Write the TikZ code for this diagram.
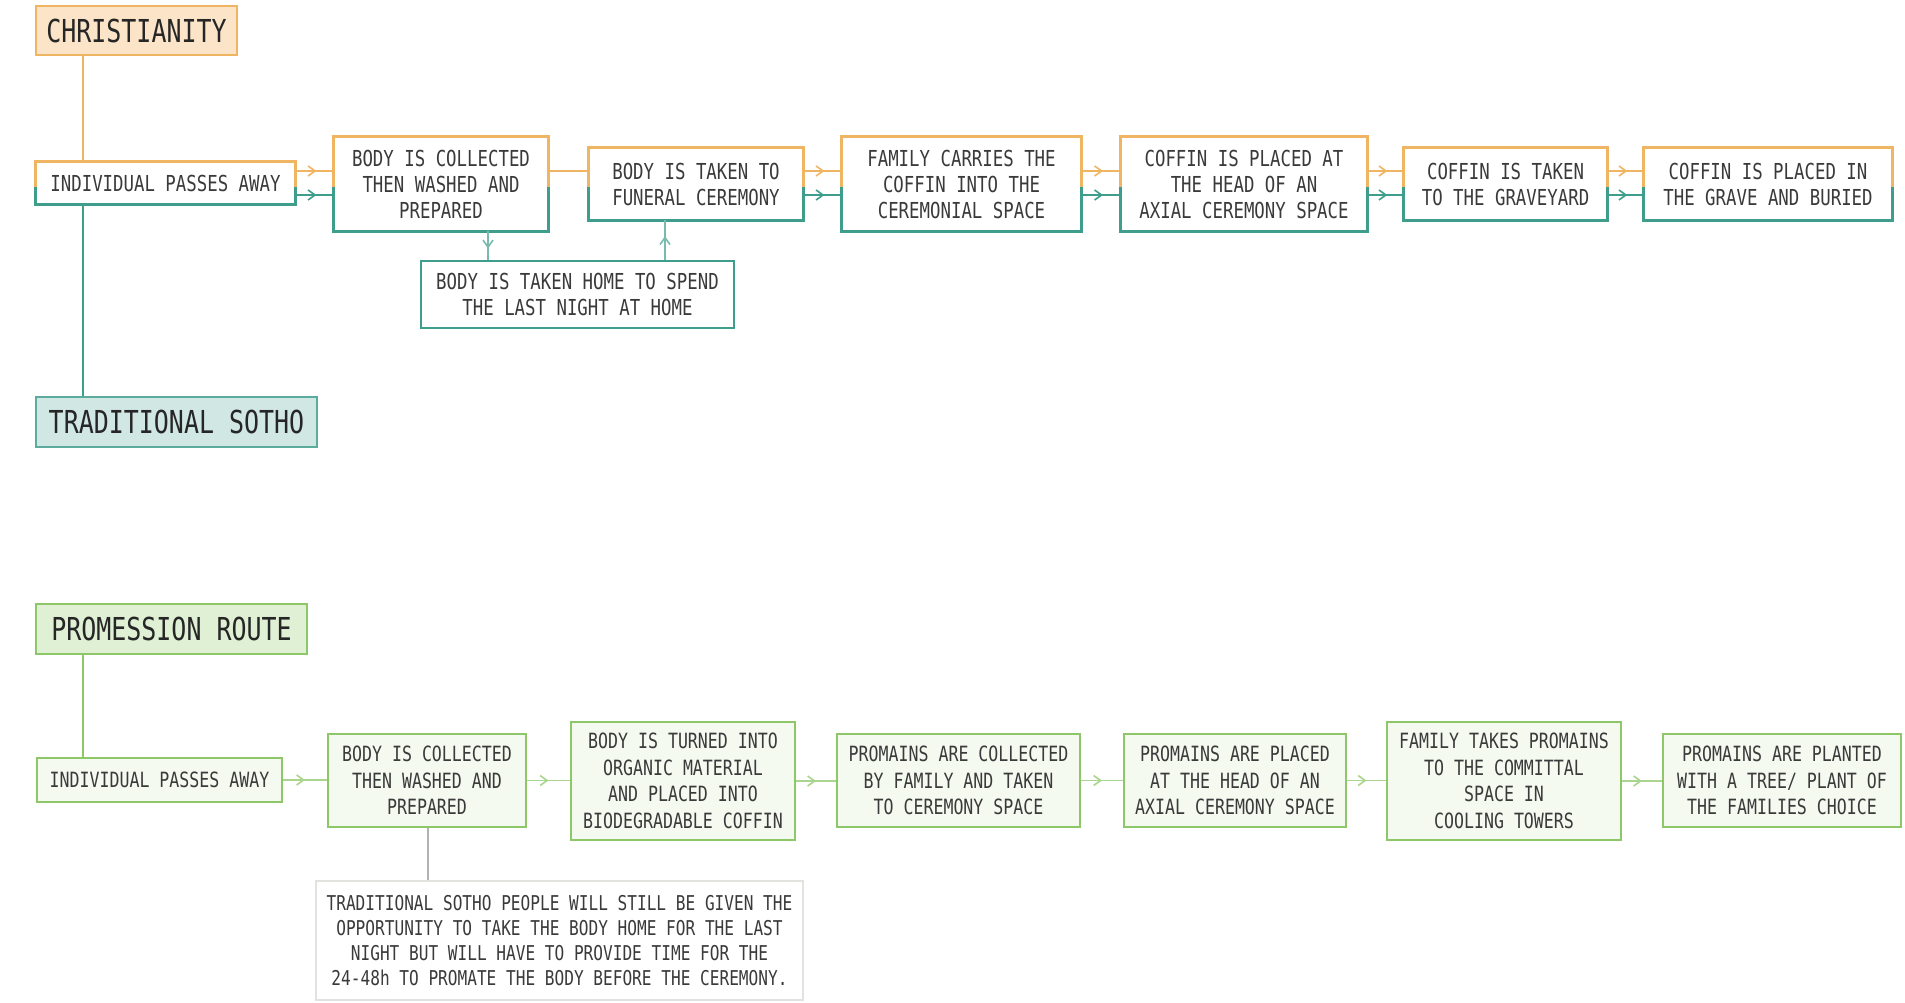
\documentclass[tikz,border=0pt]{standalone}
\usepackage{fontspec}
\newfontfamily\techfont{DejaVu Sans Mono}[FakeStretch=0.79]
\usetikzlibrary{arrows.meta,decorations.markings}
\definecolor{peach}{HTML}{F0B562}
\definecolor{peachfill}{HTML}{FCE4C8}
\definecolor{sea}{HTML}{3F9D8C}
\definecolor{seafill}{HTML}{D0E7E3}
\definecolor{leaf}{HTML}{8DC768}
\definecolor{leaffill}{HTML}{DFF0D4}
\definecolor{leafpale}{HTML}{F4FAF0}
\definecolor{ink}{HTML}{3A3A3A}

\tikzset{
  head/.style={draw,line width=1.3pt,inner sep=0pt,text=black!85,
    font=\techfont\fontsize{15.8}{18}\selectfont},
  stage/.style={inner sep=0pt,align=center,text=ink,
    font=\techfont\fontsize{11}{13}\selectfont},
  pstage/.style={draw=leaf,line width=1.2pt,fill=leafpale,inner sep=0pt,align=center,text=ink,
    font=\techfont\fontsize{10.5}{13.3}\selectfont},
  midtip/.style={postaction={decorate},decoration={markings,
    mark=at position #1 with {\arrow{Straight Barb[length=3.5pt,width=5pt]}}}},
  orline/.style={peach,line width=0.8pt},
  seline/.style={sea,line width=0.8pt},
  lfline/.style={leaf,line width=0.8pt},
}

\begin{document}
\begin{tikzpicture}[x=0.5pt,y=-0.5pt]
\useasboundingbox (0,0) rectangle (1905,1002);
\fill[white] (0,0) rectangle (1905,1002);
\coordinate (spine) at (83,0);
\coordinate (cut) at (0,187);
\coordinate (hi) at (0,171);
\coordinate (lo) at (0,195);
\coordinate (dn) at (488,0);
\coordinate (up) at (665,0);
\coordinate (nt) at (428,0);

% christianity / traditional sotho
\node[head,draw=peach,fill=peachfill,minimum width=100.5pt,minimum height=24.5pt] (chr) at (136.5,30.5) {CHRISTIANITY};
\node[head,draw=sea!85,fill=seafill,minimum width=140.5pt,minimum height=25pt] (sotho) at (176.5,422) {TRADITIONAL SOTHO};
\node[stage,minimum width=129.5pt,minimum height=21pt] (c1) at (165.5,183) {INDIVIDUAL PASSES AWAY};
\node[stage,minimum width=107pt,minimum height=47pt] (c2) at (441,184) {BODY IS COLLECTED\\THEN WASHED AND\\PREPARED};
\node[stage,minimum width=107pt,minimum height=36pt] (c3) at (696,184) {BODY IS TAKEN TO\\FUNERAL CEREMONY};
\node[stage,minimum width=119.5pt,minimum height=47pt] (c4) at (961.5,184) {FAMILY CARRIES THE\\COFFIN INTO THE\\CEREMONIAL SPACE};
\node[stage,minimum width=123pt,minimum height=47pt] (c5) at (1244,184) {COFFIN IS PLACED AT\\THE HEAD OF AN\\AXIAL CEREMONY SPACE};
\node[stage,minimum width=101.5pt,minimum height=36pt] (c6) at (1505.5,184) {COFFIN IS TAKEN\\TO THE GRAVEYARD};
\node[stage,minimum width=124pt,minimum height=36pt] (c7) at (1768,184) {COFFIN IS PLACED IN\\THE GRAVE AND BURIED};
\node[stage,draw=sea,line width=1.2pt,minimum width=156.5pt,minimum height=33.5pt] (home) at (577.5,294.5) {BODY IS TAKEN HOME TO SPEND\\THE LAST NIGHT AT HOME};

% two-colour frames
\foreach \n in {c1,c2,c3,c4,c5,c6,c7}{
  \draw[peach,line width=1.2pt] (\n.west |- cut) -- (\n.north west) -- (\n.north east) -- (\n.east |- cut);
  \draw[sea,line width=1.2pt] (\n.west |- cut) -- (\n.south west) -- (\n.south east) -- (\n.east |- cut);
}

\draw[orline] (chr.south -| spine) -- (c1.north -| spine);
\draw[seline] (c1.south -| spine) -- (sotho.north -| spine);
\draw[orline,midtip=0.55] (c1.east |- hi) -- (c2.west |- hi);
\draw[orline] (c2.east |- hi) -- (c3.west |- hi);
\foreach \a/\b in {c3/c4,c4/c5,c5/c6,c6/c7}
  \draw[orline,midtip=0.55] (\a.east |- hi) -- (\b.west |- hi);
\foreach \a/\b in {c1/c2,c3/c4,c4/c5,c5/c6,c6/c7}
  \draw[seline,midtip=0.55] (\a.east |- lo) -- (\b.west |- lo);
\draw[seline,sea!70,midtip=0.6] (c2.south -| dn) -- (home.north -| dn);
\draw[seline,sea!70,midtip=0.6] (home.north -| up) -- (c3.south -| up);

% promession route
\node[head,draw=leaf,fill=leaffill,minimum width=135.5pt,minimum height=25pt] (pro) at (171.5,629) {PROMESSION ROUTE};
\node[pstage,minimum width=122.5pt,minimum height=22pt] (p1) at (159.5,780) {INDIVIDUAL PASSES AWAY};
\node[pstage,minimum width=99pt,minimum height=46.5pt] (p2) at (427,780.5) {BODY IS COLLECTED\\THEN WASHED AND\\PREPARED};
\node[pstage,minimum width=112pt,minimum height=59pt] (p3) at (683,781) {BODY IS TURNED INTO\\ORGANIC MATERIAL\\AND PLACED INTO\\BIODEGRADABLE COFFIN};
\node[pstage,minimum width=121.5pt,minimum height=46.5pt] (p4) at (958.5,780.5) {PROMAINS ARE COLLECTED\\BY FAMILY AND TAKEN\\TO CEREMONY SPACE};
\node[pstage,minimum width=111pt,minimum height=46.5pt] (p5) at (1235,780.5) {PROMAINS ARE PLACED\\AT THE HEAD OF AN\\AXIAL CEREMONY SPACE};
\node[pstage,minimum width=117pt,minimum height=59pt] (p6) at (1504,781) {FAMILY TAKES PROMAINS\\TO THE COMMITTAL\\SPACE IN\\COOLING TOWERS};
\node[pstage,minimum width=119pt,minimum height=46.5pt] (p7) at (1782,780.5) {PROMAINS ARE PLANTED\\WITH A TREE/ PLANT OF\\THE FAMILIES CHOICE};
\node[stage,draw=leaf!35!black!15,line width=1pt,minimum width=243.5pt,minimum height=59.5pt,
  font=\techfont\fontsize{10.2}{12.5}\selectfont] (note) at (559.5,940.5)
  {TRADITIONAL SOTHO PEOPLE WILL STILL BE GIVEN THE\\OPPORTUNITY TO TAKE THE BODY HOME FOR THE LAST\\NIGHT BUT WILL HAVE TO PROVIDE TIME FOR THE\\24-48h TO PROMATE THE BODY BEFORE THE CEREMONY.};

\draw[lfline] (pro.south -| spine) -- (p1.north -| spine);
\foreach \a/\b in {p1/p2,p2/p3,p3/p4,p4/p5,p5/p6,p6/p7}
  \draw[lfline,leaf!75,midtip=0.5] (\a.east) -- (\b.west |- \a.east);
\draw[black!30,line width=0.6pt] (p2.south -| nt) -- (note.north -| nt);
\end{tikzpicture}
\end{document}
